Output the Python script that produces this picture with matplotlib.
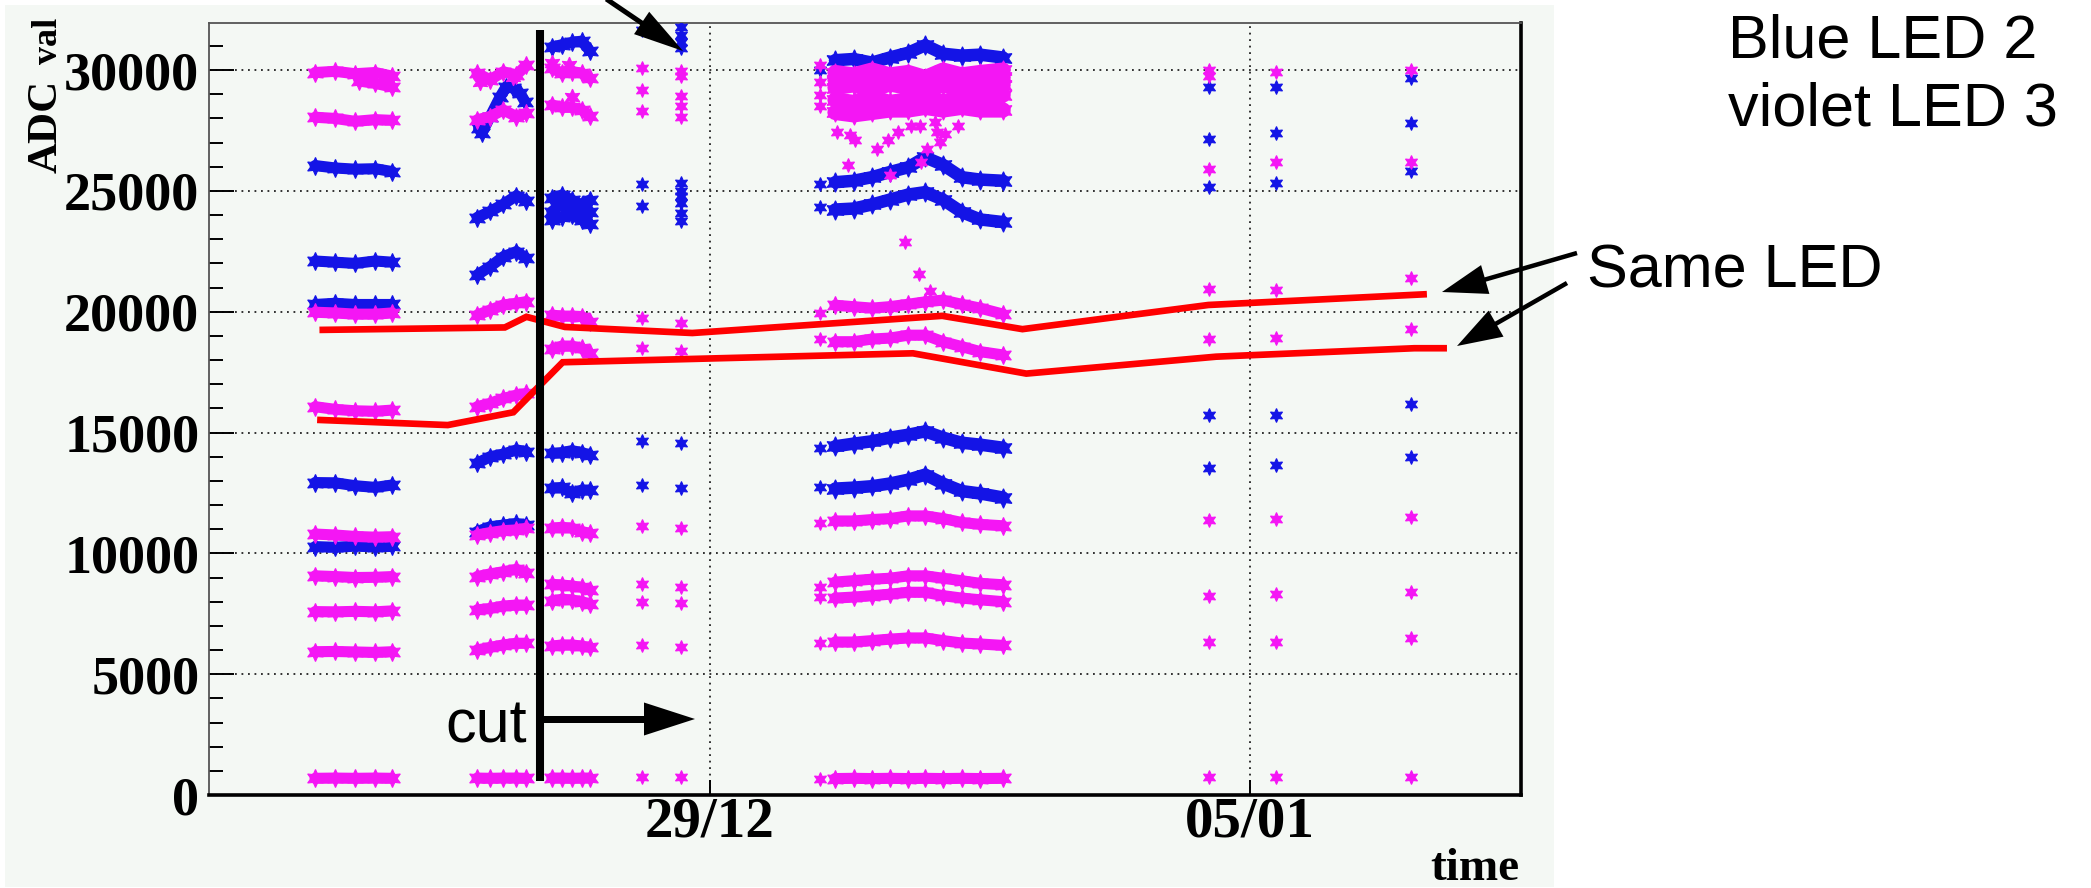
import math
import matplotlib
matplotlib.use('Agg')
import matplotlib.pyplot as plt
from matplotlib.patches import Rectangle, Polygon
from matplotlib.lines import Line2D
from matplotlib.ticker import MultipleLocator

# ---------------- data (x in days relative to 29/12) ----------------
xtick_pos = [0, 7]
xtick_labels = ['29/12', '05/01']
ytick_pos = [0, 5000, 10000, 15000, 20000, 25000, 30000]
ytick_labels = ['0', '5000', '10000', '15000', '20000', '25000', '30000']

# Period A
A_x = [-5.12, -4.86, -4.60, -4.34, -4.12]
A_blue = [
    [26050, 25950, 25900, 25920, 25800],
    [22100, 22050, 22000, 22100, 22050],
    [20300, 20350, 20300, 20300, 20300],
    [12930, 12920, 12800, 12730, 12830],
    [10280, 10250, 10300, 10270, 10290],
]
A_magenta = [
    [29900, 29950, 29850, 29900, 29750],
    [28050, 28000, 27880, 27950, 27920],
    [19980, 19950, 19900, 19900, 19950],
    [16070, 15960, 15900, 15880, 15930],
    [10800, 10760, 10700, 10670, 10690],
    [9070, 9040, 9000, 9010, 9040],
    [7590, 7580, 7600, 7580, 7620],
    [5930, 5940, 5920, 5900, 5930],
    [690, 700, 690, 700, 690],
]
A_magenta_part_x = [-4.55, -4.34, -4.12]
A_magenta_part = [29550, 29450, 29300]

# Period B
B_x = [-3.02, -2.85, -2.68, -2.51, -2.38]
B_blue = [
    [23900, 24150, 24450, 24800, 24600],
    [21520, 21870, 22280, 22490, 22210],
    [13730, 14000, 14110, 14280, 14210],
    [10900, 11100, 11170, 11240, 11170],
]
B_magenta = [
    [29870, 29600, 29930, 29800, 30200],
    [27940, 28080, 28350, 28080, 28210],
    [19860, 20070, 20280, 20350, 20420],
    [16070, 16210, 16410, 16550, 16620],
    [10760, 10860, 10940, 10970, 11040],
    [9040, 9150, 9240, 9340, 9200],
    [7660, 7720, 7820, 7860, 7860],
    [6000, 6110, 6210, 6280, 6280],
    [700, 690, 700, 700, 690],
]
B_blue_arc_x = [-3.00, -2.96, -2.85, -2.72, -2.64, -2.55, -2.46, -2.40]
B_blue_arc = [27590, 27390, 28080, 28900, 29320, 29250, 29040, 28700]
B_magenta_extra_x = [-2.98, -2.55]
B_magenta_extra = [29520, 29730]

# Period C
C_x = [-2.05, -1.92, -1.79, -1.66, -1.56]
C_blue = [
    [30950, 31050, 31150, 31200, 30800],
    [24700, 24830, 24620, 24420, 24620],
    [24140, 24480, 24200, 24140, 24140],
    [23800, 23930, 24000, 23800, 23630],
    [14140, 14170, 14250, 14170, 14070],
    [12690, 12730, 12490, 12620, 12620],
]
C_magenta = [
    [30080, 29870, 29940, 29870, 29660],
    [28560, 28460, 28460, 28350, 28100],
    [19860, 19820, 19820, 19800, 19590],
    [18440, 18580, 18580, 18480, 18280],
    [11040, 11080, 11040, 10900, 10830],
    [8720, 8690, 8650, 8590, 8480],
    [8030, 8100, 8070, 8000, 7900],
    [6160, 6210, 6210, 6160, 6110],
    [700, 700, 690, 700, 700],
]
C_magenta_extra_x = [-2.05, -1.83, -1.79]
C_magenta_extra = [30280, 30210, 28900]

# Single runs (one time, several LEDs)
D_x = -0.88
D_blue = [31650, 25270, 24370, 14640, 12830]
D_magenta = [30100, 29170, 28300, 19740, 18500, 11130, 8730, 8000, 6210, 730]
E_x = -0.37
E_blue = [31800, 31450, 31150, 30900, 25340, 25000, 24780, 24500, 24100, 23750, 14560, 12700]
E_magenta = [29960, 29750, 28920, 28510, 28070, 19540, 18370, 11040, 8620, 7930, 6140, 760]
F0_x = 1.43
F0_blue = [30000, 25300, 24330, 14370, 12740]
F0_magenta = [30200, 29490, 28970, 28520, 19940, 18870, 11240, 8600, 8190, 6290, 680]

# Period F
F_x = [1.62, 1.86, 2.10, 2.33, 2.57, 2.79, 3.02, 3.26, 3.50, 3.80]
F_blue = [
    [30410, 30460, 30310, 30520, 30720, 31030, 30680, 30600, 30640, 30520],
    [25360, 25420, 25570, 25780, 25980, 26390, 26080, 25570, 25470, 25420],
    [24230, 24270, 24440, 24640, 24850, 24950, 24640, 24130, 23820, 23710],
    [14430, 14540, 14640, 14790, 14910, 15050, 14790, 14580, 14500, 14370],
    [12680, 12720, 12780, 12890, 13050, 13260, 12890, 12580, 12480, 12310],
]
F_magenta_cloud = [
    [29900, 29800, 30000, 29800, 29900, 29690, 30000, 29800, 29900, 30000],
    [29600, 29550, 29650, 29600, 29500, 29450, 29650, 29500, 29600, 29700],
    [29280, 29390, 29180, 29430, 29280, 29180, 29390, 29180, 29280, 29390],
    [28770, 28660, 28870, 28660, 28770, 28970, 28660, 28870, 28770, 28970],
    [28250, 28150, 28250, 28350, 28350, 28460, 28350, 28460, 28350, 28350],
]
F_magenta = [
    [20270, 20210, 20150, 20210, 20310, 20410, 20480, 20310, 20150, 19900],
    [18760, 18760, 18870, 18910, 19030, 19030, 18760, 18560, 18350, 18210],
    [11340, 11340, 11400, 11440, 11550, 11550, 11440, 11280, 11200, 11140],
    [8810, 8870, 8930, 8970, 9070, 9070, 8970, 8870, 8760, 8700],
    [8150, 8190, 8250, 8310, 8390, 8390, 8250, 8150, 8080, 8000],
    [6330, 6330, 6390, 6450, 6500, 6500, 6390, 6290, 6250, 6190],
    [680, 690, 680, 690, 680, 690, 680, 690, 680, 690],
]
F_scatter_x = [1.64, 1.81, 1.88, 2.16, 2.31, 2.44, 2.61, 2.72, 2.92, 2.94,
               3.05, 2.98, 3.22, 1.79, 2.81, 2.74, 2.33, 2.53, 2.71, 2.85]
F_scatter_y = [27430, 27320, 27120, 26740, 27120, 27430, 27690, 27690, 27840, 27430,
               27360, 27010, 27690, 26080, 26740, 26190, 25670, 22890, 21550, 20870]

G_x = 6.47
G_blue = [29290, 27140, 25150, 15730, 13530]
G_magenta = [30000, 29760, 25900, 20930, 18860, 11380, 8240, 6320, 760]
H_x = 7.34
H_blue = [29290, 27390, 25320, 15730, 13640]
H_magenta = [29940, 26190, 20900, 18900, 11430, 8320, 6320, 760]
I_x = 9.09
I_blue = [29660, 27830, 25830, 16170, 13970]
I_magenta = [30000, 26210, 21390, 19270, 11490, 8420, 6490, 760]

# "Same LED" reference curves
red_upper_x = [-5.02, -2.66, -2.38, -1.88, -0.23, 3.01, 4.05, 6.46, 9.25]
red_upper_y = [19250, 19350, 19790, 19370, 19120, 19830, 19280, 20280, 20720]
red_lower_x = [-5.05, -3.40, -2.55, -1.91, 2.63, 4.10, 6.56, 9.13, 9.51]
red_lower_y = [15520, 15310, 15840, 17910, 18280, 17440, 18140, 18490, 18490]

# ---------------- styling ----------------
W, H, DPI = 2091, 888, 100
BLUE = '#1414E6'
MAG = '#F416F4'
PALE = '#F4F8F4'
STAR = (6, 1, 0)

plt.rcParams['font.family'] = ['Liberation Serif', 'DejaVu Serif']
plt.rcParams['font.weight'] = 'bold'

fig = plt.figure(figsize=(W / DPI, H / DPI), dpi=DPI)
fig.patch.set_facecolor('white')


def fx(x):
    return x / W


def fy(y):
    return 1 - y / H


fig.add_artist(Rectangle((fx(5), fy(887)), (1554 - 5) / W, (887 - 5) / H,
                         transform=fig.transFigure, facecolor=PALE,
                         edgecolor='none', zorder=-10))

ax = fig.add_axes([fx(209), fy(795), (1521 - 209) / W, (795 - 23) / H])
ax.set_facecolor(PALE)
ax.set_xlim(-6.495, 10.513)
ax.set_ylim(0, 31950)


def band(x, y, color, lw=8, ms=13):
    ax.plot(x, y, '-', color=color, lw=lw, marker=STAR, ms=ms,
            mec=color, mew=0.8, solid_capstyle='round', zorder=3)


def pts(x, y, color, ms=10):
    ax.plot(x, y, linestyle='none', color=color, marker=STAR, ms=ms,
            mec=color, mew=0.8, zorder=3)


for yy in A_blue:
    band(A_x, yy, BLUE)
for yy in B_blue:
    band(B_x, yy, BLUE)
band(B_blue_arc_x, B_blue_arc, BLUE)
for yy in C_blue:
    band(C_x, yy, BLUE)
for yy in F_blue:
    band(F_x, yy, BLUE, lw=9, ms=14)
pts([D_x] * len(D_blue), D_blue, BLUE)
pts([E_x] * len(E_blue), E_blue, BLUE)
pts([F0_x] * len(F0_blue), F0_blue, BLUE)
pts([G_x] * len(G_blue), G_blue, BLUE)
pts([H_x] * len(H_blue), H_blue, BLUE)
pts([I_x] * len(I_blue), I_blue, BLUE)

for yy in A_magenta:
    band(A_x, yy, MAG)
band(A_magenta_part_x, A_magenta_part, MAG)
for yy in B_magenta:
    band(B_x, yy, MAG)
pts(B_magenta_extra_x, B_magenta_extra, MAG, ms=12)
for yy in C_magenta:
    band(C_x, yy, MAG)
pts(C_magenta_extra_x, C_magenta_extra, MAG, ms=12)
for yy in F_magenta_cloud:
    band(F_x, yy, MAG, lw=11, ms=14)
for yy in F_magenta:
    band(F_x, yy, MAG)
pts(F_scatter_x, F_scatter_y, MAG)
pts([D_x] * len(D_magenta), D_magenta, MAG)
pts([E_x] * len(E_magenta), E_magenta, MAG)
pts([F0_x] * len(F0_magenta), F0_magenta, MAG)
pts([G_x] * len(G_magenta), G_magenta, MAG)
pts([H_x] * len(H_magenta), H_magenta, MAG)
pts([I_x] * len(I_magenta), I_magenta, MAG)

ax.plot(red_upper_x, red_upper_y, color='#FF0000', lw=4.8, zorder=5,
        solid_joinstyle='miter')
ax.plot(red_lower_x, red_lower_y, color='#FF0000', lw=4.8, zorder=5,
        solid_joinstyle='miter')

# axes, ticks, grid
ax.set_xticks(xtick_pos)
ax.set_xticklabels(xtick_labels)
ax.set_yticks(ytick_pos)
ax.set_yticklabels(ytick_labels)
ax.yaxis.set_minor_locator(MultipleLocator(1000))
ax.tick_params(axis='y', which='major', direction='in', length=18, width=1.4,
               pad=7, labelsize=39, colors='black')
ax.tick_params(axis='y', which='minor', direction='in', length=10, width=1.4)
ax.tick_params(axis='x', which='major', direction='in', length=11, width=1.4,
               pad=1, labelsize=41)
ax.grid(True, which='major', color='#222222', linestyle=(0, (1, 2.6)), lw=1.3)
for s in ('left', 'top'):
    ax.spines[s].set_color('#555555')
    ax.spines[s].set_linewidth(1.3)
for s in ('bottom', 'right'):
    ax.spines[s].set_color('black')
    ax.spines[s].set_linewidth(2.6)

# axis titles
fig.text(fx(57), fy(173), 'ADC', rotation=90, rotation_mode='anchor',
         ha='left', va='baseline', fontsize=31, fontweight='bold')
fig.text(fx(57), fy(64), 'val', rotation=90, rotation_mode='anchor',
         ha='left', va='baseline', fontsize=26, fontweight='bold')
fig.text(fx(1519), fy(880), 'time', ha='right', va='baseline',
         fontsize=34, fontweight='bold')

# annotations
SANS = ['Liberation Sans', 'DejaVu Sans']
fig.text(fx(1728), fy(58), 'Blue LED 2', ha='left', va='baseline',
         fontsize=44, family=SANS, fontweight='normal')
fig.text(fx(1728), fy(126), 'violet LED 3', ha='left', va='baseline',
         fontsize=44, family=SANS, fontweight='normal')
fig.text(fx(1587), fy(287), 'Same LED', ha='left', va='baseline',
         fontsize=44, family=SANS, fontweight='normal')
fig.text(fx(527), fy(742), 'cut', ha='right', va='baseline',
         fontsize=44, family=SANS, fontweight='normal')

fig.add_artist(Line2D([fx(540), fx(540)], [fy(30), fy(781)],
                      transform=fig.transFigure, color='black', lw=5.8,
                      solid_capstyle='butt', zorder=6))


def arrow(x0, y0, x1, y1, lw_px, hl, hw):
    dx, dy = x1 - x0, y1 - y0
    L = math.hypot(dx, dy)
    ux, uy = dx / L, dy / L
    bx, by = x1 - ux * hl, y1 - uy * hl
    fig.add_artist(Line2D([fx(x0), fx(bx + ux * 2)], [fy(y0), fy(by + uy * 2)],
                          transform=fig.transFigure, color='black',
                          lw=lw_px * 0.72, solid_capstyle='butt', zorder=6))
    px_, py_ = -uy, ux
    tri = Polygon([[fx(x1), fy(y1)],
                   [fx(bx + px_ * hw / 2), fy(by + py_ * hw / 2)],
                   [fx(bx - px_ * hw / 2), fy(by - py_ * hw / 2)]],
                  closed=True, transform=fig.transFigure,
                  facecolor='black', edgecolor='none', zorder=6)
    fig.add_artist(tri)


arrow(543, 719, 695, 719, 7, 51, 33)
arrow(1577, 253, 1442, 292, 4.5, 45, 30)
arrow(1567, 283, 1457, 346, 4.5, 45, 30)
arrow(596, -8, 683, 51, 5, 50, 27)

fig.savefig('out.png', dpi=DPI, facecolor='white')
